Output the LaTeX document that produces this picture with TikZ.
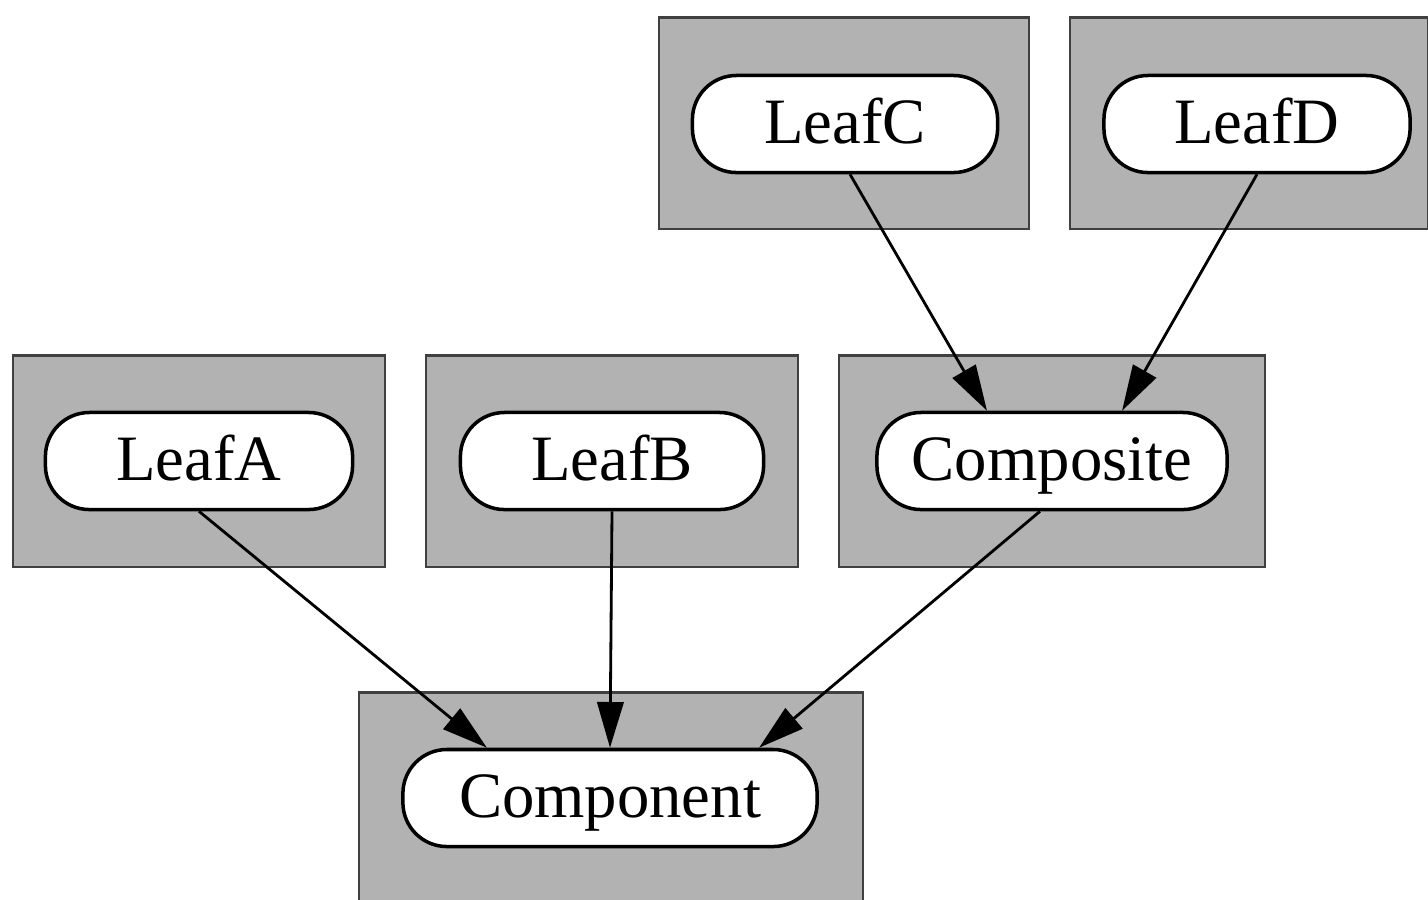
\documentclass[tikz,border=0pt]{standalone}
\usepackage{fontspec}
\setmainfont{Liberation Serif}
\usetikzlibrary{arrows.meta}

\begin{document}
\begin{tikzpicture}[x=0.01cm, y=-0.01cm,
    panel/.style={draw=black!75, line width=0.6pt, fill=black!30, inner sep=0pt, minimum height=2.11cm},
    classnode/.style={draw, line width=1pt, fill=white, rounded corners=0.44cm, inner sep=0pt,
        minimum height=0.97cm, text height=13pt, text depth=2.2pt, font=\fontsize{18.4}{21}\selectfont},
    link/.style={-{Triangle[length=13pt, width=7.5pt]}, line width=0.8pt}]
\useasboundingbox (0,0) rectangle (1428,899);
% shaded panels
\foreach \n/\x/\y/\w in {pA/199/461/3.71, pB/612/461/3.71, pComposite/1052/461/4.25,
    pC/844/123/3.69, pD/1249/123/3.57, pComponent/611/798/5.03} {
    \node[panel, minimum width=\w cm] (\n) at (\x,\y) {};
}
% classes
\node[classnode, minimum width=3.07cm] (leafA) at (199,461) {LeafA};
\node[classnode, minimum width=3.03cm] (leafB) at (612,461) {LeafB};
\node[classnode, minimum width=3.50cm] (composite) at (1052,461) {Composite};
\node[classnode, minimum width=3.05cm] (leafC) at (845,124) {LeafC};
\node[classnode, minimum width=3.06cm] (leafD) at (1257,124) {LeafD};
\node[classnode, minimum width=4.14cm] (component) at (610,798) {Component};
% inheritance links
\draw[link] (leafA.south) -- ([xshift=-1.23cm]component.north);
\draw[link] (leafB.south) -- (component.north);
\draw[link] ([xshift=-0.12cm]composite.south) -- ([xshift=1.49cm]component.north);
\draw[link] ([xshift=0.05cm]leafC.south) -- ([xshift=-0.65cm]composite.north);
\draw[link] (leafD.south) -- ([xshift=0.70cm]composite.north);
\end{tikzpicture}
\end{document}
